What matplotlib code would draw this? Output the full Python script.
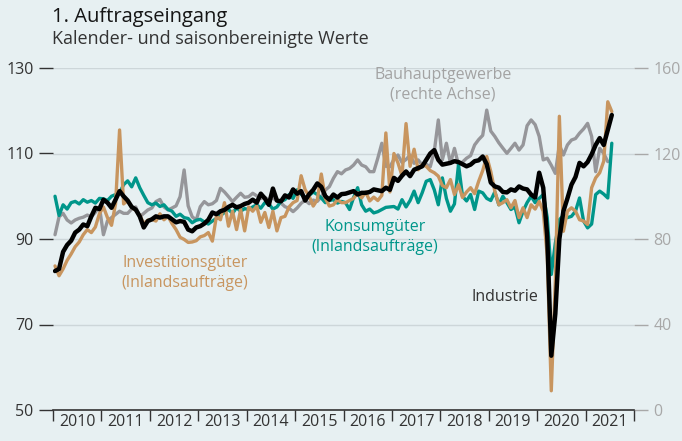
import matplotlib
matplotlib.use('Agg')
import matplotlib.pyplot as plt

# Monatswerte ab Januar 2010
industrie = [
    82.5, 83.0, 87.0, 88.6, 89.6, 91.5, 92.2, 93.4, 93.0, 95.3, 97.3, 97.0,
    99.2, 98.5, 97.3, 99.2, 101.2, 100.0, 99.0, 97.5, 96.9, 95.3, 92.7, 94.2,
    94.6, 95.3, 95.0, 95.3, 95.3, 94.6, 93.9, 94.2, 94.0, 92.2, 91.8, 92.7,
    93.0, 93.6, 94.5, 96.2, 95.8, 96.5, 96.8, 97.5, 98.0, 97.4, 97.7, 98.2,
    98.5, 99.2, 98.5, 100.6, 99.5, 98.0, 101.8, 99.0, 98.8, 100.2, 99.7, 101.6,
    100.6, 101.2, 99.0, 100.5, 101.5, 103.0, 102.2, 100.0, 99.2, 100.4, 99.7, 100.5,
    100.6, 100.9, 101.2, 100.4, 100.8, 100.8, 101.0, 101.6, 101.4, 101.2, 102.0, 101.5,
    104.3, 103.6, 104.8, 105.8, 104.7, 106.2, 106.6, 107.0, 108.5, 110.0, 110.8, 108.5,
    107.4, 107.6, 107.8, 108.2, 108.0, 107.5, 107.0, 107.4, 108.2, 108.4, 109.3, 107.5,
    103.2, 102.3, 102.0, 101.0, 100.9, 101.6, 101.3, 102.3, 101.8, 101.6, 100.4, 99.7,
    105.5, 102.0, 90.5, 62.7, 72.5, 90.0, 96.5, 99.5, 102.7, 104.5, 107.8, 107.0,
    108.0, 109.8, 112.0, 113.6, 112.0, 115.5, 119.0,
]

investitionsgueter = [
    83.7, 81.4, 83.0, 85.0, 86.5, 88.2, 89.3, 91.0, 92.2, 91.5, 92.8, 95.9,
    97.5, 95.0, 93.2, 98.2, 115.5, 98.2, 99.0, 97.4, 96.7, 95.6, 93.6, 94.4,
    94.6, 94.2, 95.9, 94.5, 95.3, 93.6, 92.2, 90.4, 89.9, 89.2, 89.3, 89.6,
    90.5, 90.8, 91.5, 89.5, 95.3, 94.5, 98.5, 93.0, 96.5, 92.2, 96.9, 91.9,
    97.5, 96.5, 97.7, 93.9, 96.2, 92.7, 96.5, 91.9, 95.0, 95.3, 97.5, 98.5,
    99.0, 104.8, 101.5, 100.0, 97.7, 99.2, 105.2, 99.5, 97.7, 98.0, 99.2, 98.5,
    98.5, 99.0, 99.5, 100.8, 99.6, 101.0, 98.9, 99.8, 99.0, 100.2, 114.8, 101.0,
    110.0, 107.8, 104.8, 117.0, 107.0, 111.0, 106.2, 107.4, 107.0, 106.0, 105.5, 104.7,
    102.5, 102.0, 103.9, 100.4, 102.7, 99.7, 101.0, 102.0, 100.6, 103.5, 106.0, 109.3,
    105.8, 101.2, 98.0, 98.5, 99.2, 97.3, 99.0, 95.0, 97.3, 95.0, 98.0, 97.0,
    98.8, 96.5, 86.0, 54.5, 80.0, 118.7, 91.8, 96.5, 97.3, 96.5, 94.5, 94.2,
    93.4, 102.0, 104.3, 105.5, 108.2, 122.1, 119.8,
]

konsumgueter = [
    100.0, 95.5, 98.0, 97.0, 98.5, 98.8, 98.2, 99.2, 98.6, 99.0, 98.4, 99.5,
    99.4, 99.0, 100.0, 100.4, 100.8, 102.7, 103.6, 102.2, 104.3, 102.0, 100.2, 98.5,
    98.0, 98.4, 97.6, 98.0, 96.9, 96.5, 95.3, 95.8, 95.0, 94.8, 93.8, 94.4,
    94.6, 94.0, 93.5, 94.2, 94.8, 95.5, 96.2, 96.9, 96.0, 97.3, 96.5, 97.1,
    96.9, 97.5, 98.0, 97.2, 98.5, 98.2, 97.0, 97.5, 98.8, 99.2, 100.4, 99.5,
    101.5, 100.5, 99.7, 100.2, 101.0, 100.4, 99.6, 98.5, 99.0, 99.2, 98.4, 98.8,
    98.5, 96.9, 99.7, 102.0, 98.0, 96.5, 97.0, 96.1, 96.4, 96.9, 97.4, 97.5,
    97.6, 97.0, 99.2, 97.5, 99.0, 101.2, 98.5, 100.8, 103.5, 103.9, 101.5, 98.0,
    104.3, 99.5, 96.5, 98.2, 107.4, 100.0, 98.9, 100.4, 96.9, 101.2, 100.8, 99.5,
    99.0, 101.0, 98.0, 100.0, 98.5, 96.9, 97.5, 93.8, 96.5, 98.5, 100.0, 98.5,
    99.5, 100.4, 95.0, 81.7, 89.0, 94.5, 95.5, 95.0, 95.3, 96.5, 99.6, 94.2,
    92.6, 93.5, 100.4, 101.2, 100.5, 99.6, 112.4,
]

bauhauptgewerbe = [
    82.0, 90.4, 92.0, 88.9, 87.5, 88.9, 89.7, 90.2, 91.2, 90.4, 92.5, 95.1,
    82.0, 88.5, 90.0, 91.5, 93.0, 92.0, 92.0, 94.0, 95.0, 90.4, 92.0, 93.6,
    94.5, 97.5, 98.5, 95.0, 93.6, 94.5, 95.5, 99.8, 112.3, 95.5, 90.4, 88.9,
    95.1, 97.5, 96.0, 96.5, 98.0, 103.7, 102.0, 99.8, 97.5, 99.5, 101.4, 99.5,
    99.8, 101.4, 100.2, 99.0, 99.5, 98.2, 99.2, 97.8, 96.8, 95.1, 94.4, 92.8,
    94.5, 96.7, 98.2, 96.5, 98.2, 97.6, 99.8, 102.9, 104.5, 108.4, 111.5, 110.5,
    112.3, 113.0, 114.6, 117.0, 114.6, 113.8, 111.5, 111.5, 117.8, 124.8, 114.0, 113.8,
    117.2, 119.3, 115.8, 117.2, 119.3, 115.4, 117.0, 114.6, 115.0, 113.8, 121.0, 135.7,
    117.0, 124.8, 115.4, 122.4, 114.6, 116.0, 117.8, 119.0, 124.0, 126.5, 128.5, 140.3,
    130.5, 128.0, 125.0, 122.5, 120.1, 122.4, 124.8, 121.6, 124.0, 133.0, 135.7, 133.5,
    128.0, 117.0, 117.8, 114.5, 110.7, 124.0, 119.3, 124.0, 126.3, 127.0, 129.5, 131.5,
    134.1, 128.0, 111.5, 122.4, 120.0, 116.2,
]

jahre = list(range(2010, 2022))
links_ticks = [50, 70, 90, 110, 130]
rechts_ticks = [0, 40, 80, 120, 160]

# Farben
bg = '#e7f0f2'
c_ind = '#000000'
c_inv = '#c8955f'
c_kon = '#00968a'
c_bau = '#96969a'
c_txt = '#333333'
c_rechts = '#a8a8a8'


def monate(werte):
    # Monatsmitte als Dezimaljahr
    return [2010 + (i + 0.5) / 12 for i in range(len(werte))]


plt.rcParams['font.family'] = ['Open Sans', 'DejaVu Sans']

W, H = 682, 441
fig = plt.figure(figsize=(W / 100, H / 100), dpi=100)
fig.patch.set_facecolor(bg)

rect = [53 / W, 1 - 410 / H, 581 / W, 342 / H]
ax = fig.add_axes(rect)
ax2 = ax.twinx()
ax.set_zorder(2)
ax2.set_zorder(1)
ax.patch.set_visible(False)
ax2.patch.set_visible(False)

# Linien
ax2.plot(monate(bauhauptgewerbe), bauhauptgewerbe, color=c_bau, lw=2.4,
         solid_joinstyle='round', solid_capstyle='round')
ax.plot(monate(konsumgueter), konsumgueter, color=c_kon, lw=2.4,
        solid_joinstyle='round', solid_capstyle='round')
ax.plot(monate(investitionsgueter), investitionsgueter, color=c_inv, lw=2.4,
        solid_joinstyle='round', solid_capstyle='round')
ax.plot(monate(industrie), industrie, color=c_ind, lw=3.2,
        solid_joinstyle='round', solid_capstyle='round')

# Achsen
ax.set_xlim(2010, 2022)
ax.set_ylim(50, 130)
ax2.set_ylim(0, 160)

ax.set_yticks(links_ticks)
ax2.set_yticks(rechts_ticks)
ax.tick_params(axis='y', length=10, width=1, color=c_txt, labelcolor=c_txt,
               labelsize=11.5, pad=4)
ax2.tick_params(axis='y', length=10, width=1, color=c_rechts,
                labelcolor=c_rechts, labelsize=11.5, pad=4)

ax.set_xticks(jahre + [2022])
ax.set_xticklabels([])
ax.set_xticks([j + 0.5 for j in jahre], minor=True)
ax.set_xticklabels([str(j) for j in jahre], minor=True)
ax.tick_params(axis='x', which='major', length=8, width=1, color=c_txt)
ax.tick_params(axis='x', which='minor', length=0, labelsize=11.5,
               labelcolor=c_txt, pad=3)

for s in ['top', 'right', 'left']:
    ax.spines[s].set_visible(False)
ax.spines['bottom'].set_color(c_txt)
ax.spines['bottom'].set_linewidth(1.2)
for s in ax2.spines.values():
    s.set_visible(False)

ax2.grid(axis='y', color='#cdd6d9', lw=1)

# Titel
fig.text(52 / W, 1 - 17 / H, '1. Auftragseingang', fontsize=14.5,
         fontweight='medium', color='#151515', va='center', ha='left')
fig.text(52 / W, 1 - 39 / H, 'Kalender- und saisonbereinigte Werte',
         fontsize=13, color='#333333', va='center', ha='left')

# Beschriftungen der Reihen
fig.text(443 / W, 1 - 85 / H, 'Bauhauptgewerbe\n(rechte Achse)', fontsize=11.5,
         color='#a3a3a3', ha='center', va='center', linespacing=1.3)
fig.text(185 / W, 1 - 273 / H, 'Investitionsgüter\n(Inlandsaufträge)',
         fontsize=11.5, color=c_inv, ha='center', va='center', linespacing=1.3)
fig.text(375 / W, 1 - 237 / H, 'Konsumgüter\n(Inlandsaufträge)',
         fontsize=11.5, color=c_kon, ha='center', va='center', linespacing=1.3)
fig.text(505 / W, 1 - 297 / H, 'Industrie', fontsize=11.5, color=c_txt,
         ha='center', va='center')

fig.savefig('out.png', dpi=100, facecolor=bg)
